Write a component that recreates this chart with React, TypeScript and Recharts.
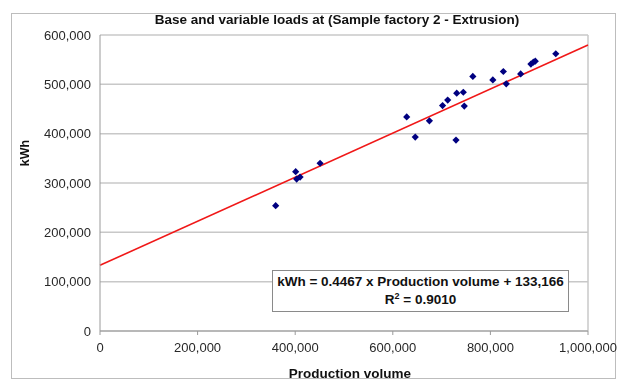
import {
  ComposedChart, Scatter, XAxis, YAxis, CartesianGrid, ReferenceLine,
} from 'recharts'

// monthly samples: production volume vs electricity use
const production = [
  360000, 401000, 403000, 410000, 451000, 628500, 646000, 675000, 702000, 712500,
  729500, 731000, 744500, 746500, 764000, 805000, 826500, 832500, 862000, 883000,
  888000, 892000, 934000,
]
const kwh = [
  254000, 323000, 308000, 312000, 340000, 434000, 393000, 426000, 457000, 468000,
  387000, 482000, 484000, 456000, 516000, 509000, 526000, 501000, 521000, 541000,
  545000, 547000, 562000,
]

// fitted trend: kWh = slope * volume + intercept
const slope = 0.4467
const intercept = 133166
const rSquared = '0.9010'

const xTicks = [0, 200000, 400000, 600000, 800000, 1000000]
const yTicks = [0, 100000, 200000, 300000, 400000, 500000, 600000]

const points = production.map((x, i) => ({ x, y: kwh[i] }))

const fmt = (v: number) => v.toLocaleString('en-US')

const FONT = 'Arial, "Liberation Sans", sans-serif'

function Diamond(props: any) {
  const { cx, cy } = props
  const r = 3.6
  return (
    <path
      d={`M${cx},${cy - r}L${cx + r},${cy}L${cx},${cy + r}L${cx - r},${cy}Z`}
      fill="#000080"
    />
  )
}

export default function App() {
  return (
    <div style={{ position: 'fixed', left: 0, top: 0, width: 619, height: 380, background: '#fff', fontFamily: FONT }}>
      <div style={{
        position: 'absolute', left: 11, top: 13, width: 605, height: 366,
        border: '1px solid #bdbdbd', boxSizing: 'border-box',
      }} />
      <div style={{
        position: 'absolute', left: 0, width: 674, top: 12, textAlign: 'center',
        fontWeight: 'bold', fontSize: 13.5, color: '#111',
      }}>
        Base and variable loads at (Sample factory 2 - Extrusion)
      </div>
      <ComposedChart
        width={619}
        height={380}
        margin={{ top: 35, right: 31, left: 0, bottom: 0 }}
        style={{ position: 'absolute', left: 0, top: 0 }}
      >
        <CartesianGrid vertical={false} stroke="#c8c8c8" strokeWidth={1.5} />
        <XAxis
          type="number"
          dataKey="x"
          domain={[0, 1000000]}
          ticks={xTicks}
          tickFormatter={fmt}
          height={49}
          tickSize={4}
          tickMargin={8}
          stroke="#9a9a9a"
          tick={{ fill: '#282828', fontSize: 13, fontFamily: FONT }}
          label={{
            value: 'Production volume', position: 'insideBottom', offset: 2, dx: 6,
            style: { fontWeight: 'bold', fontSize: 13.5, fill: '#111', fontFamily: FONT },
          }}
        />
        <YAxis
          type="number"
          dataKey="y"
          domain={[0, 600000]}
          ticks={yTicks}
          tickFormatter={fmt}
          width={100}
          tickSize={0}
          tickMargin={9}
          stroke="#9a9a9a"
          tick={{ fill: '#282828', fontSize: 13, fontFamily: FONT }}
          label={{
            value: 'kWh', angle: -90, position: 'center', dx: -25, dy: -30,
            style: { fontWeight: 'bold', fontSize: 12.5, fill: '#111', fontFamily: FONT },
          }}
        />
        <ReferenceLine x={1000000} stroke="#c8c8c8" strokeWidth={1.5} />
        <Scatter data={points} shape={<Diamond />} isAnimationActive={false} />
        <ReferenceLine
          segment={[
            { x: 0, y: intercept },
            { x: 1000000, y: slope * 1000000 + intercept },
          ]}
          stroke="#f01818"
          strokeWidth={1.6}
          ifOverflow="visible"
        />
      </ComposedChart>
      <div style={{
        position: 'absolute', left: 272, top: 270, width: 297, height: 42,
        border: '1px solid #8a8a8a', boxSizing: 'border-box', background: '#fff',
        textAlign: 'center', fontWeight: 'bold', fontSize: 13.5, color: '#111', lineHeight: '18px',
        paddingTop: 2,
      }}>
        <div>kWh = {slope} x Production volume + {fmt(intercept)}</div>
        <div>R<sup style={{ fontSize: 9, verticalAlign: 'top', lineHeight: '10px' }}>2</sup> = {rSquared}</div>
      </div>
    </div>
  )
}
